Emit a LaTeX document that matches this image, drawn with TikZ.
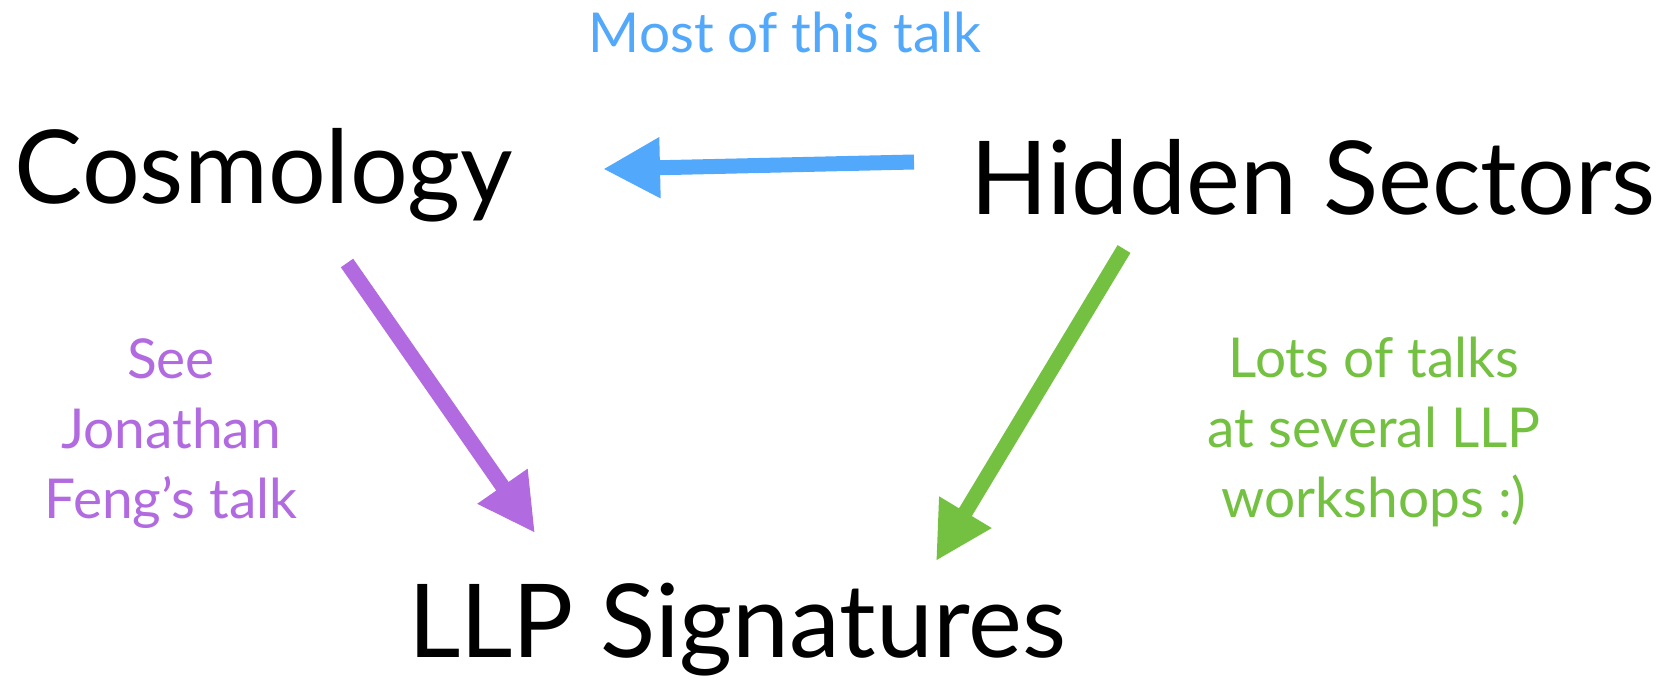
\documentclass[tikz,border=0pt]{standalone}
\usepackage{fontspec}
\setmainfont{Lato}
\usetikzlibrary{arrows.meta}
\definecolor{talkblue}{RGB}{82,168,250}
\definecolor{talkpurple}{RGB}{178,106,224}
\definecolor{talkgreen}{RGB}{116,193,66}

\begin{document}
\begin{tikzpicture}[x=1pt,y=-1pt,
  topic/.style={anchor=base, inner sep=0pt, font=\fontsize{102}{110}\selectfont},
  remark/.style={anchor=base, inner sep=0pt, align=center, font=\fontsize{55}{70}\selectfont},
  link/.style={line width=15pt, -{Triangle[length=57pt,width=57pt]}}]
\useasboundingbox[fill=white] (0,0) rectangle (1678,681);
% the three topics
\node[topic] (cosmo)  at (264,203) {Cosmology};
\node[topic] (hidden) at (1313,214) {Hidden Sectors};
\node[topic] (llp)    at (737,657) {LLP Signatures};
% arrow ends
\coordinate (hid-w) at (914,162);
\coordinate (cos-e) at (603,169);
\coordinate (cos-s) at (347,263);
\coordinate (llp-nw) at (535,533);
\coordinate (hid-s) at (1124,249);
\coordinate (llp-ne) at (936,561);
\draw[link, talkblue]   (hid-w) -- (cos-e);
\draw[link, talkpurple] (cos-s) -- (llp-nw);
\draw[link, talkgreen]  (hid-s) -- (llp-ne);
% comments on the arrows
\node[remark, talkblue] (most) at (785,52) {Most of this talk};
\node[remark, talkpurple, anchor=north] (see) at (171,338) {See\\Jonathan\\Feng’s talk};
\node[remark, talkgreen, anchor=north] (lots) at (1374,337) {Lots of talks\\at several LLP\\workshops :)};
\end{tikzpicture}
\end{document}
